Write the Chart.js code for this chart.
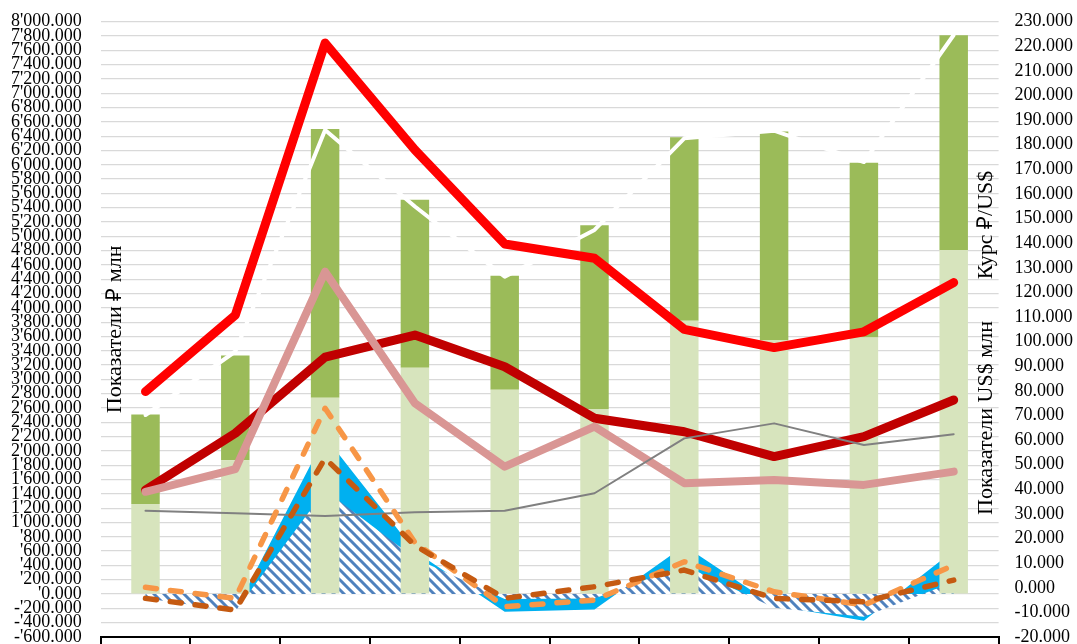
<!DOCTYPE html>
<html>
<head>
<meta charset="utf-8">
<script src="https://cdn.jsdelivr.net/npm/chart.js@4/dist/chart.umd.min.js"></script>
<style>
  html, body { margin: 0; padding: 0; background: #fff; overflow: hidden; }
  canvas { display: block; }
</style>
</head>
<body>
<canvas id="chart" width="1077" height="644"></canvas>
<script>
// --- Data ---
const categories = ["1", "2", "3", "4", "5", "6", "7", "8", "9", "10"];

// ₽ млн, stacked bars
const rubBase = [1260, 1870, 2745, 3165, 2855, 2585, 3820, 3550, 3585, 4810];
const rubTop = [1250, 1465, 3755, 2345, 1595, 2570, 2565, 2915, 2445, 3000];

// ₽ млн, areas and dashed lines
const areaCyan = [-40, -230, 2200, 600, -248, -215, 675, -160, -373, 610];
const areaHatch = [-60, -240, 1450, 500, -70, -63, 400, -190, -317, 168];
const dashOrange = [94, -60, 2597, 720, -177, -84, 452, 32, -154, 405];
const dashBrown = [-60, -224, 1898, 680, -60, 102, 336, -60, -107, 196];

// US$ млн and rate, right axis
const usdRed = [79.7, 110.8, 221.3, 177.9, 139.7, 133.9, 105.0, 97.6, 104.0, 124.0];
const usdDarkRed = [39.7, 62.8, 93.7, 102.7, 89.8, 68.9, 63.4, 53.3, 61.4, 76.3];
const usdPink = [39.0, 48.2, 128.4, 75.0, 49.2, 65.5, 42.5, 43.8, 41.8, 47.2];
const usdGray = [31.3, 30.3, 29.2, 30.7, 31.3, 38.4, 60.7, 66.8, 58.0, 62.4];
const rate = [70.2, 96.0, 186.0, 154.9, 126.4, 145.4, 182.6, 185.7, 173.0, 224.6];

const leftTitle = "Показатели ₽ млн";
const rightTitles = ["Курс ₽/US$", "Показатели US$ млн"];

// --- Helpers ---
const FONT = "'Liberation Serif', 'Times New Roman', serif";

// 8000 -> 8'000.000, 800 -> '800.000, -200 -> -'200.000
function fmtRub(v) {
  const n = Math.abs(Math.round(v));
  const th = Math.floor(n / 1000), rest = n % 1000;
  const body = th > 0 ? th + "'" + String(rest).padStart(3, "0") : "'" + rest;
  return (v < 0 ? "-" : "") + body + ".000";
}

function stripes() {
  const c = document.createElement("canvas");
  c.width = c.height = 10;
  const x = c.getContext("2d");
  x.fillStyle = "#fff";
  x.fillRect(0, 0, 10, 10);
  x.strokeStyle = "#4F81BD";
  x.lineWidth = 3;
  x.beginPath();
  x.moveTo(-5, -5); x.lineTo(15, 15);
  x.moveTo(-5, 5); x.lineTo(5, 15);
  x.moveTo(5, -5); x.lineTo(15, 5);
  x.stroke();
  return x.createPattern(c, "repeat");
}

const line = (label, data, color, width, order, axis, extra) => Object.assign({
  type: "line", label, data, borderColor: color, borderWidth: width, order,
  yAxisID: axis, stack: "s_" + label, pointRadius: 0, tension: 0,
  borderCapStyle: "round", borderJoinStyle: "round", fill: false
}, extra || {});

// --- Right axis titles ---
const sideTitles = {
  id: "sideTitles",
  afterDraw(chart) {
    const { ctx, chartArea } = chart;
    const x = chartArea.right - 12;
    ctx.save();
    ctx.font = "22px " + FONT;
    ctx.fillStyle = "#000";
    ctx.textAlign = "center";
    ctx.textBaseline = "middle";
    [[rightTitles[0], 225], [rightTitles[1], 418]].forEach(([t, y]) => {
      ctx.save();
      ctx.translate(x, y);
      ctx.rotate(-Math.PI / 2);
      ctx.fillText(t, 0, 0);
      ctx.restore();
    });
    ctx.restore();
  }
};

// --- Chart ---
new Chart(document.getElementById("chart"), {
  type: "bar",
  data: {
    labels: categories,
    datasets: [
      line("brown", dashBrown, "#C55A11", 5.5, 0, "yL", { borderDash: [11, 14] }),
      line("orange", dashOrange, "#F79646", 5.5, 1, "yL", { borderDash: [11, 14] }),
      line("gray", usdGray, "#808080", 2, 2, "yR"),
      line("pink", usdPink, "#D99694", 8, 3, "yR"),
      line("darkred", usdDarkRed, "#C00000", 9, 4, "yR"),
      line("red", usdRed, "#FF0000", 9, 5, "yR"),
      line("rate", rate, "#FFFFFF", 4, 6, "yR"),
      { type: "bar", label: "base", data: rubBase, backgroundColor: "#D7E4BD", order: 7, yAxisID: "yL", stack: "bars",
        categoryPercentage: 1, barPercentage: 0.317 },
      { type: "bar", label: "top", data: rubTop, backgroundColor: "#9BBB59", order: 8, yAxisID: "yL", stack: "bars",
        categoryPercentage: 1, barPercentage: 0.317 },
      line("hatch", areaHatch, "rgba(0,0,0,0)", 0, 9, "yL", { fill: "origin", backgroundColor: stripes() }),
      line("cyan", areaCyan, "rgba(0,0,0,0)", 0, 10, "yL", { fill: "origin", backgroundColor: "#00B0F0" })
    ]
  },
  options: {
    responsive: false,
    animation: false,
    layout: { padding: { top: 21.7, left: 0, right: 0, bottom: 0 } },
    plugins: { legend: { display: false }, tooltip: { enabled: false } },
    scales: {
      x: {
        type: "category",
        offset: true,
        grid: { offset: true, drawOnChartArea: false, color: "#000", lineWidth: 2, tickLength: 10 },
        border: { color: "#000", width: 2 },
        ticks: { display: false },
        afterFit: s => { s.height = 7; }
      },
      yL: {
        position: "left",
        stacked: true,
        min: -600, max: 8000,
        grid: { color: "#D9D9D9", lineWidth: 1.3, drawTicks: false },
        border: { display: false },
        ticks: {
          stepSize: 200, maxTicksLimit: 100, autoSkip: false, padding: 18.9,
          color: "#000", font: { family: FONT, size: 18 }, callback: v => fmtRub(v)
        },
        title: { display: true, text: leftTitle, color: "#000", font: { family: FONT, size: 22 }, padding: { top: 101.8 } },
        afterFit: s => { s.width = 100.6; s.paddingTop = 0; s.paddingBottom = 0; }
      },
      yR: {
        position: "right",
        min: -20, max: 230,
        grid: { display: false },
        border: { display: false },
        ticks: {
          stepSize: 10, maxTicksLimit: 100, autoSkip: false, padding: 8,
          color: "#000", font: { family: FONT, size: 18 }, callback: v => v.toFixed(3)
        },
        afterFit: s => { s.width = 78.4; s.paddingTop = 0; s.paddingBottom = 0; }
      }
    }
  },
  plugins: [sideTitles]
});
</script>
</body>
</html>
